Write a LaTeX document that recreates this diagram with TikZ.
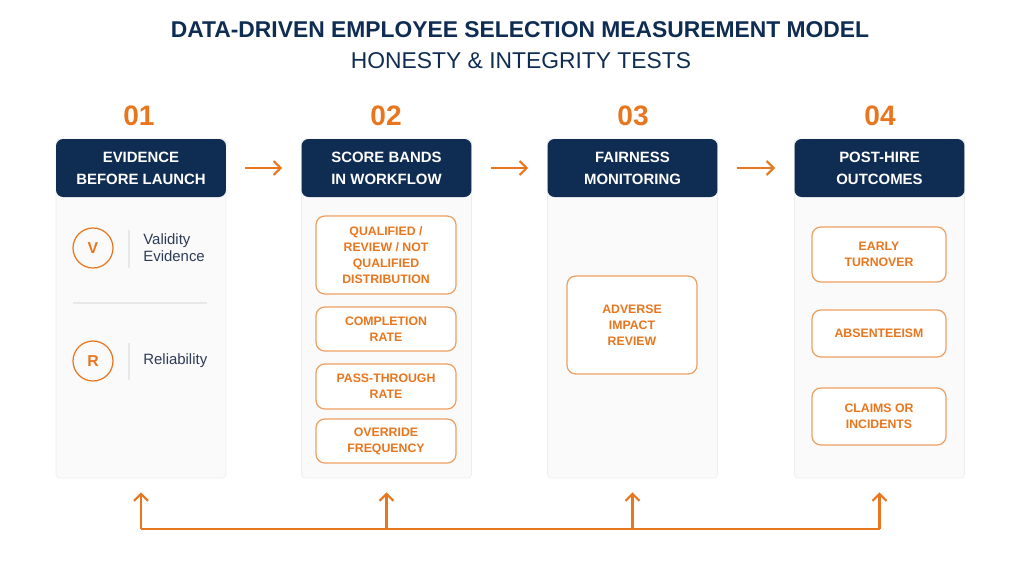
\documentclass[tikz,border=0pt]{standalone}
\usepackage{fontspec}
\setmainfont{Liberation Sans}
\usepackage{xcolor}
\definecolor{navy}{HTML}{0F2C52}
\definecolor{accent}{HTML}{E8761E}
\definecolor{inkgray}{HTML}{2E3B55}
\definecolor{panelbg}{HTML}{FAFAFB}
\usetikzlibrary{arrows.meta,positioning,calc}

\begin{document}
\begin{tikzpicture}[x=0.02cm,y=-0.02cm,
  title/.style={text=navy,font=\fontsize{13}{15}\selectfont\bfseries},
  subtitle/.style={text=navy,font=\fontsize{13}{15}\selectfont},
  num/.style={text=accent,font=\fontsize{16}{18}\selectfont\bfseries},
  head/.style={fill=navy,rounded corners=4pt,text=white,
               minimum width=3.4cm,minimum height=1.16cm,
               font=\fontsize{8.5}{12.5}\selectfont\bfseries,align=center},
  panel/.style={draw=black!7,fill=panelbg,rounded corners=2pt,
                minimum width=3.4cm,minimum height=6.78cm},
  metric/.style={draw=accent!70,fill=white,rounded corners=5pt,line width=0.7pt,
                 text=accent,font=\fontsize{7}{9.1}\selectfont\bfseries,align=center},
  badge/.style={circle,draw=accent,line width=0.7pt,minimum size=0.8cm,
                text=accent,font=\fontsize{9}{10}\selectfont\bfseries},
  itemtext/.style={text=inkgray,font=\fontsize{8.5}{9.8}\selectfont,align=left,inner sep=0pt},
  divline/.style={draw=black!9,line width=0.6pt},
  arrow/.style={-{Straight Barb[length=4pt,width=8pt]},line width=1.2pt,draw=accent},
  flow/.style={line width=1.2pt,draw=accent}
]
\useasboundingbox (0,0) rectangle (1024,562);

% Titulo
\node[title] (t1) at (520,30) {DATA-DRIVEN EMPLOYEE SELECTION MEASUREMENT MODEL};
\node[subtitle] (t2) at (521,61) {HONESTY \& INTEGRITY TESTS};

% Numeros
\node[num] (n1) at (139,116) {01};
\node[num] (n2) at (386,116) {02};
\node[num] (n3) at (633,116) {03};
\node[num] (n4) at (880,116) {04};

% Paneles
\node[panel] (p1) at (141,308.5) {};
\node[panel] (p2) at (386.5,308.5) {};
\node[panel] (p3) at (632.5,308.5) {};
\node[panel] (p4) at (879.5,308.5) {};

% Cabeceras
\node[head] (h1) at (141,168) {EVIDENCE\\BEFORE LAUNCH};
\node[head] (h2) at (386.5,168) {SCORE BANDS\\IN WORKFLOW};
\node[head] (h3) at (632.5,168) {FAIRNESS\\MONITORING};
\node[head] (h4) at (879.5,168) {POST-HIRE\\OUTCOMES};

% Flechas entre cabeceras
\draw[arrow,shorten <=0.38cm,shorten >=0.38cm] (h1.east) -- (h2.west);
\draw[arrow,shorten <=0.38cm,shorten >=0.38cm] (h2.east) -- (h3.west);
\draw[arrow,shorten <=0.38cm,shorten >=0.38cm] (h3.east) -- (h4.west);

% Columna 1
\node[badge] (cv) at (93,248) {V};
\node[itemtext,anchor=west] (tv) at (143,248) {Validity\\Evidence};
\draw[divline] (129,230) -- (129,268);
\draw[divline] (73,303) -- (207,303);
\node[badge] (cr) at (93,361) {R};
\node[itemtext,anchor=west] (tr) at (143,361) {Reliability};
\draw[divline] (129,343) -- (129,380);

% Columna 2
\node[metric,minimum width=2.8cm,minimum height=1.56cm] (m1) at (386,255)
  {QUALIFIED /\\REVIEW / NOT\\QUALIFIED\\DISTRIBUTION};
\node[metric,minimum width=2.8cm,minimum height=0.88cm] (m2) at (386,329) {COMPLETION\\RATE};
\node[metric,minimum width=2.8cm,minimum height=0.9cm] (m3) at (386,386.5) {PASS-THROUGH\\RATE};
\node[metric,minimum width=2.8cm,minimum height=0.88cm] (m4) at (386,441) {OVERRIDE\\FREQUENCY};

% Columna 3
\node[metric,minimum width=2.6cm,minimum height=1.96cm] (m5) at (632,325) {ADVERSE\\IMPACT\\REVIEW};

% Columna 4
\node[metric,minimum width=2.68cm,minimum height=1.1cm] (m6) at (879,254.5) {EARLY\\TURNOVER};
\node[metric,minimum width=2.68cm,minimum height=0.94cm] (m7) at (879,333.5) {ABSENTEEISM};
\node[metric,minimum width=2.68cm,minimum height=1.14cm] (m8) at (879,416.5) {CLAIMS OR\\INCIDENTS};

% Retroalimentacion inferior
\coordinate (base) at (0,529);
\coordinate (b1) at (p1.south |- base);
\coordinate (b2) at (p2.south |- base);
\coordinate (b3) at (p3.south |- base);
\coordinate (b4) at (p4.south |- base);
\draw[flow] (b1) -- (b4);
\draw[arrow,shorten >=0.28cm] (b1) -- (p1.south);
\draw[arrow,shorten >=0.28cm] (b2) -- (p2.south);
\draw[arrow,shorten >=0.28cm] (b3) -- (p3.south);
\draw[arrow,shorten >=0.28cm] (b4) -- (p4.south);

\end{tikzpicture}
\end{document}
